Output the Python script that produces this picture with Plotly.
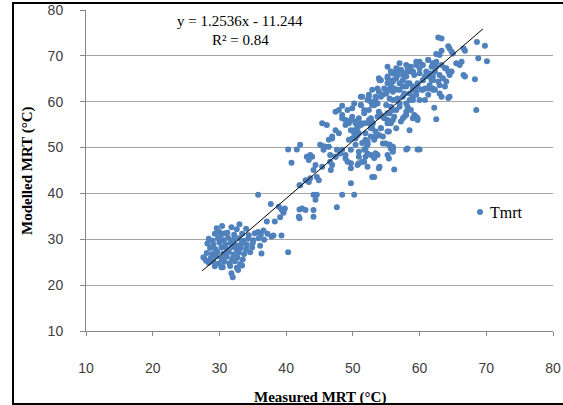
import plotly.graph_objects as go

# ---- data (measured MRT, modelled MRT) ----
low_pts = [
    (35.8,39.7),(42.0,41.8),(37.7,37.7),(38.9,37.1),(39.3,36.5),(39.6,35.8),(42.0,36.5),(42.0,34.6),
    (38.3,33.9),(39.1,34.8),(37.1,33.9),(33.0,33.3),(35.8,31.6),(36.6,31.9),(37.8,30.6),(39.3,30.8),
    (40.3,27.2),(36.3,26.9),(30.0,31.6),(30.8,31.3),(31.8,22.6),(32.0,21.7),(32.8,23.3),(30.3,23.9),
    (27.7,25.9),(28.0,25.3),
    (29.6,32.4),(30.4,32.9),(31.8,32.6),(32.6,32.2),(34.0,32.3),
    (29.3,31.2),(30.2,30.9),(31.2,31.4),(32.2,31.0),(33.4,31.2),(34.4,30.9),(35.3,31.3),(36.2,31.0),(37.2,31.2),(38.1,30.8),
    (28.4,30.1),(29.0,29.7),(29.8,30.2),(30.6,29.8),(31.3,30.3),(32.1,29.9),(32.9,30.2),(33.6,29.7),(34.3,30.1),(35.1,29.8),(35.9,30.2),(36.7,29.9),
    (28.2,29.1),(29.1,28.8),(30.0,29.3),(30.9,28.9),(31.7,29.2),(32.5,28.7),(33.3,29.1),(34.1,28.8),(35.0,29.2),(36.1,28.6),
    (28.6,28.1),(29.4,27.8),(30.3,28.2),(31.1,27.9),(31.9,28.3),(32.6,27.7),(33.2,28.1),(34.0,27.9),(34.9,28.2),
    (28.1,27.0),(28.9,26.8),(29.7,27.2),(30.6,26.9),(31.4,27.3),(32.1,26.7),(32.9,27.1),(33.7,26.8),(34.6,27.2),
    (27.6,26.1),(28.7,25.9),(29.5,26.3),(30.3,25.8),(31.1,26.2),(31.9,25.7),(32.7,26.0),(33.5,25.6),
    (28.4,24.9),(29.1,25.2),(29.9,24.7),(30.7,25.1),(31.5,24.8),(32.3,25.2),(33.1,24.6),
    (29.3,24.1),(30.5,23.9),(31.6,24.2),(32.6,23.8),(33.4,24.3),
]

mid_pts = [
    (40.3,49.6),(41.6,49.6),(42.1,50.6),(40.8,46.7),(43.4,47.3),(43.9,48.0),(44.4,46.2),(44.1,45.1),
    (44.6,43.6),(44.9,42.9),(42.9,42.9),(42.1,41.8),(45.4,45.8),(45.6,50.3),(46.4,50.2),(46.9,52.0),
    (45.4,55.3),(46.1,54.9),(47.4,57.8),(48.4,59.1),(46.6,48.4),(46.7,45.1),(47.6,49.5),(48.1,48.7),
    (48.9,47.6),(49.2,46.9),(49.7,45.5),(49.7,42.2),(44.1,39.7),(44.6,39.7),(44.4,38.6),(48.4,39.7),
    (50.2,39.7),(47.6,37.0),(42.4,36.7),(42.9,36.4),(44.1,36.4),(39.8,36.7),(39.6,36.0),(41.9,34.9),
    (44.1,34.9),(51.9,53.1),(52.7,52.4),(53.4,52.4),(53.9,52.7),(51.7,55.3),(52.4,56.0),(52.9,55.6),
    (51.4,51.0),(52.2,50.6),(49.7,49.5),(50.9,49.1),(51.7,49.5),(51.9,48.0),(52.7,48.4),(53.2,48.0),
    (53.7,48.4),(50.7,46.2),(51.4,46.9),(52.2,45.8),(52.9,43.6),(53.9,45.5),(55.2,48.4),(55.4,47.6),
    (56.0,49.1),(55.7,49.8),(54.9,50.9),(54.5,52.4),(55.4,53.5),(55.2,55.3),(56.0,56.0),(51.2,61.1),
    (52.4,61.5),(43.1,48.0),(43.6,48.4),(43.4,42.5),(43.6,43.3),(46.6,46.9),(46.9,46.2),(47.4,48.0),
    (47.9,58.2),(48.4,57.1),(48.9,56.0),(49.4,55.3),(49.9,56.7),(50.4,55.7),(50.7,54.6),(50.2,53.8),
    (50.7,52.7),(50.4,52.0),(50.9,53.1),(51.2,55.3),(49.2,58.2),(49.9,58.6),(50.2,59.6),(51.2,59.3),
    (51.7,58.2),(52.4,61.1),(52.9,59.3),(53.4,60.4),(53.9,57.8),(54.7,56.4),(55.5,57.5),(56.2,56.7),
    (55.7,55.3),(56.5,54.2),(57.2,55.7),(52.7,54.2),(51.9,51.7),(52.2,50.9),
    (49.7,56.0),(48.4,56.4),(48.9,54.9),(49.7,53.8),(50.2,53.1),(49.9,52.0),(50.7,54.2),(51.2,54.9),
    (52.4,55.3),(52.9,54.2),(53.4,53.5),(54.2,54.2),(52.7,56.4),(52.2,51.3),(53.2,51.7),(53.9,52.7),
    (54.5,50.9),(55.5,50.6),(56.0,49.8),(53.4,48.7),(53.2,47.7),(51.9,49.8),(50.9,48.0),(50.4,50.6),
    (49.4,51.7),(47.9,53.1),(47.4,53.8),(46.9,52.4),(46.4,51.7),(45.9,50.2),(45.1,50.6),(45.6,49.5),
    (47.4,48.0),(48.4,49.5),(48.9,48.4),(49.7,46.6),(50.9,46.6),(51.7,46.9),(52.2,48.7),
]

high_pts = [
    (62.8,74.0),(63.3,73.8),(64.3,72.1),(64.5,71.6),(64.8,70.9),(65.0,70.5),(62.5,70.4),(63.0,70.2),
    (63.3,71.1),(68.6,73.0),(69.8,72.2),(66.8,71.1),(66.6,71.6),(68.8,69.5),(70.1,68.8),(65.5,68.4),
    (66.0,68.0),(66.3,68.7),(66.6,65.8),(66.8,65.5),(68.3,64.9),(64.3,66.6),(64.5,66.2),(64.0,64.4),
    (63.0,63.6),(63.8,63.3),(61.5,66.2),(62.0,65.5),(61.0,66.6),(61.3,69.1),(62.0,68.4),(62.5,67.6),
    (60.0,68.7),(59.5,68.0),(58.7,67.6),
    (68.5,58.2),(62.5,56.2),(62.2,58.7),(64.3,60.8),(58.5,53.8),(56.2,45.2),(54.0,45.8),(53.2,43.6),
    (58.2,49.8),(59.7,49.6),(58.0,49.6),(60.0,49.6),(59.0,56.4),(59.5,56.7),(57.7,56.7),(58.0,57.8),
    (59.3,56.7),(59.7,56.0),(55.2,53.5),(55.4,50.6),(55.7,49.8),(56.0,50.2),
    (56.0,66.2),(56.5,66.5),(57.2,66.9),(57.5,65.8),(58.2,66.9),(59.0,66.5),
    (60.8,65.5),(60.5,64.7),(60.0,66.2),(59.2,65.8),(58.5,66.6),(58.0,65.5),(57.2,66.9),(56.5,66.2),
    (56.0,66.2),(57.5,64.7),(57.0,64.0),(58.0,63.3),(58.5,64.0),(59.0,62.6),(59.7,63.3),(60.3,62.6),
    (60.8,62.9),(61.5,63.6),(62.0,62.9),(61.3,61.5),(60.8,60.4),(60.0,60.4),(59.5,61.5),(59.0,61.1),
    (58.5,60.4),(57.7,61.8),(57.0,62.6),(56.2,62.9),(55.7,63.6),(55.2,64.0),(54.7,62.9),(55.5,62.6),
    (55.0,61.8),(54.2,61.1),(53.9,62.2),(53.7,62.9),(54.2,64.7),(53.9,65.1),(55.2,65.5),(56.0,64.7),
    (56.5,65.1),(56.7,60.7),(56.0,60.4),(57.0,59.6),(58.2,58.9),(58.7,58.2),(59.2,57.1),(59.7,56.4),
    (58.0,57.1),(57.5,56.4),(56.5,58.2),(55.7,58.9),(55.2,57.5),(54.5,56.7),(53.7,56.7),(53.2,59.3),
    (52.7,60.0),(52.2,60.4),(51.4,61.1),(51.2,59.3),(52.4,58.2),(51.7,57.5),(50.9,56.4),(50.4,55.3),
    (53.0,55.3),(54.2,54.2),(55.5,50.6),(56.0,49.8),(53.4,48.7),(63.0,61.8),(63.3,61.1),(62.3,62.6),
    (64.0,67.3),(61.8,64.7),(64.5,61.1),
    (54.0,64.7),(55.2,65.1),(56.0,64.4),(56.7,65.8),(57.2,66.9),(57.7,66.2),(58.5,67.6),(59.0,66.6),
    (59.5,68.7),(60.0,67.3),(60.5,68.0),(61.3,69.1),(61.8,67.6),(62.3,66.6),(63.0,65.8),(63.5,65.1),
    (62.8,64.4),(62.0,64.7),(61.3,65.5),(60.5,64.7),(59.7,64.0),(59.0,63.3),(58.2,64.0),(57.5,63.3),
    (56.7,62.6),(56.0,62.2),(55.0,62.6),(54.5,61.5),(55.5,60.7),(56.5,60.4),(57.5,61.1),(58.5,61.8),
    (59.5,62.2),(60.5,62.6),(61.3,62.9),(62.0,62.6),(58.0,59.6),(57.0,58.9),(59.0,60.4),(53.7,59.6),
    (53.2,59.3),(55.0,59.3),(54.2,57.1),(55.2,56.0),(56.0,58.2),(62.5,68.7),(63.3,68.0),(63.8,67.3),
    (64.5,65.8),(64.8,66.6),(58.0,68.0),(56.5,67.3),(55.7,66.6),(57.0,68.4),(55.2,67.6),(52.9,62.6),
    (53.4,61.1),
]

series_name = "Tmrt"
equation_text = "y = 1.2536x - 11.244"
r2_text = "R² = 0.84"
x_title = "Measured MRT (°C)"
y_title = "Modelled MRT (°C)"
tick_values = [10, 20, 30, 40, 50, 60, 70, 80]

# regression reported on the chart
slope, intercept = 1.2536, -11.244
fit_x = [27.4, 69.5]
fit_y = [slope * v + intercept for v in fit_x]

all_pts = low_pts + mid_pts + high_pts
measured = [p[0] for p in all_pts]
modelled = [p[1] for p in all_pts]

blue = "#4F81BD"
fig = go.Figure()
fig.add_trace(go.Scatter(
    x=measured, y=modelled, mode="markers", name=series_name, showlegend=False,
    marker=dict(color=blue, size=6, line=dict(width=0)),
))
fig.add_trace(go.Scatter(
    x=fit_x, y=fit_y, mode="lines", showlegend=False,
    line=dict(color="#000000", width=1),
))

tickfont = dict(family="Liberation Sans", size=14, color="#404040")
serif = "Liberation Serif"

W, H = 563, 405
L, R, T, B = 86, 10, 10, 74
pw, ph = W - L - R, H - T - B
def px(xp):  # pixel -> paper x
    return (xp - L) / pw
def py(yp):  # pixel -> paper y
    return (H - B - yp) / ph

fig.update_layout(
    width=W, height=H,
    margin=dict(l=L, r=R, t=T, b=B, autoexpand=False),
    paper_bgcolor="white", plot_bgcolor="white",
    showlegend=False,
    xaxis=dict(range=[10, 80], tickvals=tick_values, automargin=False,
               showgrid=False, zeroline=False, showline=True, linecolor="#868686",
               linewidth=1, ticks="outside", ticklen=4, tickcolor="#868686",
               tickfont=tickfont, ticklabelstandoff=20),
    yaxis=dict(range=[10, 80], tickvals=tick_values, automargin=False,
               showgrid=True, gridcolor="#A6A6A6", gridwidth=1, zeroline=False,
               showline=True, linecolor="#868686", linewidth=1,
               ticks="outside", ticklen=5, tickcolor="#868686",
               tickfont=tickfont, ticklabelstandoff=14),
    annotations=[
        dict(text=equation_text, x=px(240), y=py(21), xref="paper", yref="paper",
             xanchor="center", yanchor="middle",
             showarrow=False, font=dict(family=serif, size=15, color="#000000")),
        dict(text=r2_text, x=px(240), y=py(40), xref="paper", yref="paper",
             xanchor="center", yanchor="middle",
             showarrow=False, font=dict(family=serif, size=15, color="#000000")),
        dict(text="<b>" + x_title + "</b>", x=px(320), y=py(397), xref="paper", yref="paper",
             xanchor="center", yanchor="middle",
             showarrow=False, font=dict(family=serif, size=15, color="#000000")),
        dict(text="<b>" + y_title + "</b>", x=px(27), y=py(170), xref="paper", yref="paper",
             xanchor="center", yanchor="middle",
             showarrow=False, textangle=-90, font=dict(family=serif, size=15, color="#000000")),
        dict(text=series_name, x=px(488), y=py(212), xref="paper", yref="paper",
             xanchor="left", yanchor="middle",
             showarrow=False, font=dict(family=serif, size=16, color="#000000")),
    ],
    shapes=[
        # legend key
        dict(type="circle", xref="paper", yref="paper",
             x0=px(477), x1=px(483), y0=py(215), y1=py(209),
             fillcolor=blue, line=dict(width=0)),
        # outer frame
        dict(type="rect", xref="paper", yref="paper",
             x0=px(13), x1=px(600), y0=py(404), y1=py(3),
             line=dict(color="#000000", width=2), fillcolor="rgba(0,0,0,0)", layer="above"),
    ],
)

fig.write_html("out.html", config={"displayModeBar": False},
               post_script="document.body.style.margin='0';")
